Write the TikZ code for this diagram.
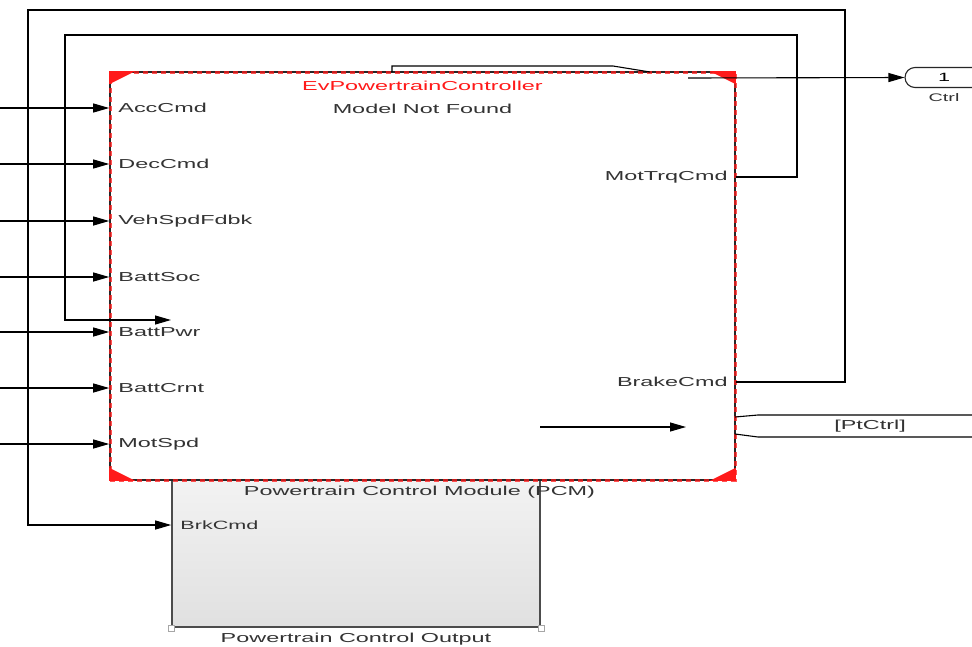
\documentclass[tikz,border=0pt]{standalone}
\usepackage{fontspec}
\usepackage{tikz}
\usetikzlibrary{arrows.meta,calc}
\newfontfamily\slkfont{Liberation Sans}[FakeStretch=1.8]
\definecolor{SlkRed}{HTML}{FF1A1A}
\definecolor{SlkText}{HTML}{333333}

\begin{document}
\begin{tikzpicture}[
  x=1pt, y=-1pt,
  font=\slkfont\fontsize{13}{15}\selectfont,
  sig/.style={-{Triangle[length=16pt,width=9pt]}, line width=1.1pt},
  wire/.style={line width=1.1pt},
  portlbl/.style={inner sep=0pt, text=SlkText},
  mdlblock/.style={draw=black!85, line width=1.6pt, fill=white,
    postaction={draw=SlkRed, opacity=0.75, line width=3pt, dash pattern=on 5pt off 4pt}},
  subsys/.style={draw=black!70, line width=1.6pt, top color=gray!10, bottom color=gray!24},
  handle/.style={draw=gray!70, fill=white, line width=0.6pt, minimum size=6pt, inner sep=0pt},
  outport/.style={draw=black!85, line width=1.1pt, rounded corners=10pt, fill=white}
]
\clip (0,0) rectangle (972,646);
\fill[white] (0,0) rectangle (972,646);

% subsystem below the controller
\node[subsys, minimum width=368pt, minimum height=147pt] (pco) at (356,553.5) {};
\node[handle] (hdl1) at (pco.south west) {};
\node[handle] (hdl2) at (pco.south east) {};
\node[portlbl, anchor=north] (pcolbl) at ([yshift=-5pt]pco.south) {Powertrain Control Output};

% model reference block
\node[mdlblock, minimum width=625pt, minimum height=408pt] (pcm) at (422.5,276) {};
\foreach \cn/\sx/\sy in {north west/1/1, north east/-1/1, south east/-1/-1, south west/1/-1}
  \fill[SlkRed] (pcm.\cn) -- ++(26*\sx,0) -- ++(-26*\sx,13*\sy) -- cycle;
\node[text=SlkRed, inner sep=0pt] (pcmname) at ([yshift=-15pt]pcm.north) {EvPowertrainController};
\node[portlbl] (pcmnote) at ([yshift=-38pt]pcm.north) {Model Not Found};
\node[portlbl, anchor=north] (pcmlbl) at ([xshift=-3pt,yshift=-5pt]pcm.south) {Powertrain Control Module (PCM)};

% inputs
\foreach \lbl/\yy [count=\i] in {AccCmd/108, DecCmd/164, VehSpdFdbk/221, BattSoc/277, BattPwr/332, BattCrnt/388, MotSpd/444} {
  \coordinate (src\i) at (0,\yy);
  \coordinate (in\i) at (pcm.west |- src\i);
  \draw[sig] (src\i) -- (in\i);
  \node[portlbl, anchor=west] (inlbl\i) at ([xshift=9pt]in\i) {\lbl};
}

% outputs
\coordinate (out1) at (pcm.east |- 0,177);
\coordinate (out2) at (pcm.east |- 0,382);
\node[portlbl, anchor=east] (outlbl1) at ([xshift=-8pt]out1) {MotTrqCmd};
\node[portlbl, anchor=east] (outlbl2) at ([xshift=-8pt]out2) {BrakeCmd};

\coordinate (brk) at (pco.west |- 0,525);
\node[portlbl, anchor=west, font=\slkfont\fontsize{12}{14}\selectfont] (brklbl) at ([xshift=9pt]brk) {BrkCmd};
\coordinate (fbk) at (171,320);

\draw[sig] (out1) -| (797,35) -| (65,320) -- (fbk);
\draw[sig] (out2) -| (845,10) -| (28,525) -- (brk);

% top wire and Ctrl outport
\coordinate (tw1) at (392,72);
\coordinate (tw2) at (650,72);
\draw[wire] (tw1) -- (392,66) -- (613,66) -- (tw2);
\node[outport, minimum width=78pt, minimum height=20pt,
  font=\slkfont\fontsize{12}{14}\selectfont] (ctrl) at (944,77.5) {1};
\node[portlbl, anchor=north, font=\slkfont\fontsize{11}{13}\selectfont] (ctrllbl) at ([yshift=-5pt]ctrl.south) {Ctrl};
\coordinate (ctrlsrc) at (688,78);
\draw[sig] (ctrlsrc) -- (ctrl.west);

% loose signal inside the block
\coordinate (mid1) at (540,427);
\coordinate (mid2) at (686,427);
\draw[sig] (mid1) -- (mid2);

% goto tag
\draw[wire] (735,417) -- (758,415) -- (990,415);
\draw[wire] (735,434) -- (758,437) -- (990,437);
\node[portlbl] (ptctrl) at (870,426) {[PtCtrl]};
\end{tikzpicture}
\end{document}
